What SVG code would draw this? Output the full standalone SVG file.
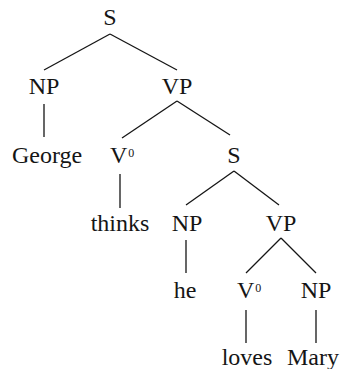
<svg xmlns="http://www.w3.org/2000/svg" width="345" height="369" viewBox="0 0 345 369">
<style>
text{font-family:'Liberation Serif','Times New Roman',Times,serif;font-size:24px;fill:#151515;text-anchor:middle}
.v{text-anchor:start}
.sup{font-size:12px}
#connectors line{stroke:#151515;stroke-width:1.3}
</style>
<rect width="345" height="369" fill="#fff"/>
<g id="connectors">
<line x1="110" y1="34" x2="44" y2="70"/>
<line x1="110" y1="34" x2="177" y2="70"/>
<line x1="44" y1="104" x2="44" y2="137"/>
<line x1="177" y1="101" x2="122" y2="138"/>
<line x1="177" y1="101" x2="230" y2="135"/>
<line x1="120" y1="174" x2="120" y2="208"/>
<line x1="234" y1="171" x2="186" y2="205"/>
<line x1="234" y1="171" x2="279" y2="205"/>
<line x1="186" y1="240" x2="186" y2="273"/>
<line x1="281" y1="238" x2="246" y2="273"/>
<line x1="281" y1="238" x2="316" y2="273"/>
<line x1="246" y1="310" x2="246" y2="343"/>
<line x1="316" y1="310" x2="316" y2="343"/>
</g>
<g id="S1"><text x="110" y="25">S</text></g>
<g id="NP1"><text x="44" y="94">NP</text></g>
<g id="VP1"><text x="177" y="94">VP</text></g>
<g id="George"><text x="47" y="163">George</text></g>
<g id="V0a"><text class="v" x="110" y="163">V<tspan class="sup" dx="1" dy="-6">0</tspan></text></g>
<g id="S2"><text x="234" y="163">S</text></g>
<g id="thinks"><text x="120" y="231">thinks</text></g>
<g id="NP2"><text x="187" y="231">NP</text></g>
<g id="VP2"><text x="281" y="231">VP</text></g>
<g id="he"><text x="185" y="298">he</text></g>
<g id="V0b"><text class="v" x="237" y="298">V<tspan class="sup" dx="1" dy="-6">0</tspan></text></g>
<g id="NP3"><text x="316" y="298">NP</text></g>
<g id="loves"><text x="247" y="365">loves</text></g>
<g id="Mary"><text x="313" y="365">Mary</text></g>
</svg>
